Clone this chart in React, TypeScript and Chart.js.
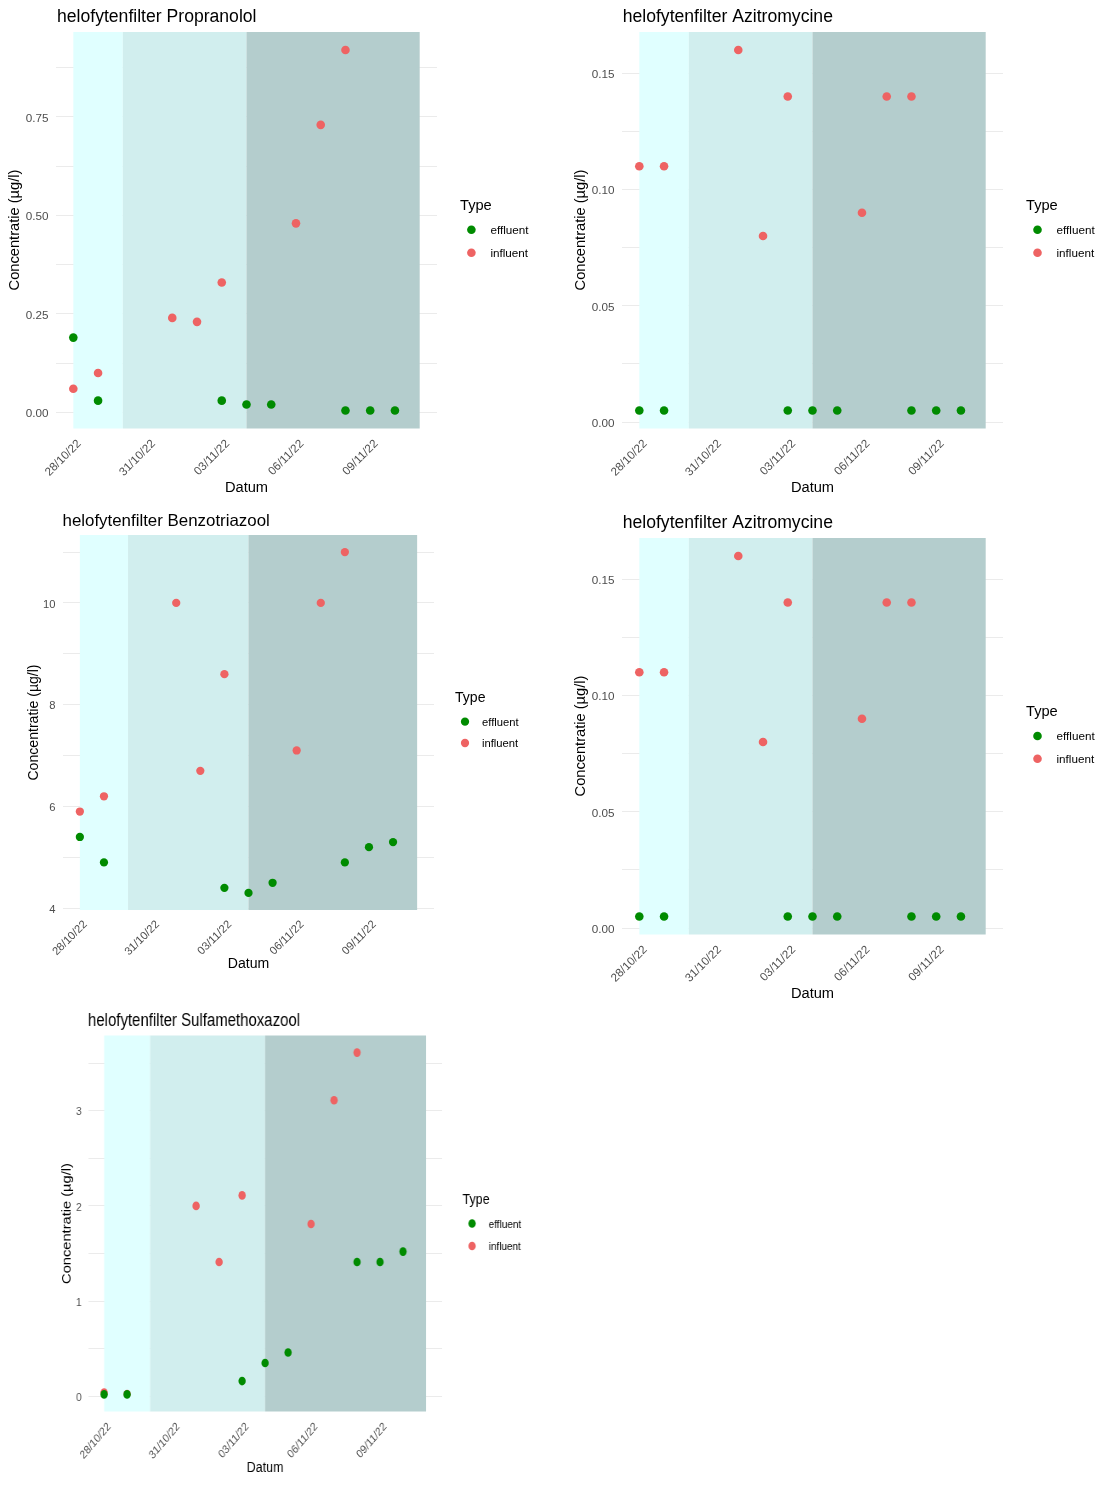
import React, { useEffect, useRef } from 'react';
import { Chart, registerables } from 'chart.js';

Chart.register(...registerables);

const FONT = '"Liberation Sans", Arial, Helvetica, sans-serif';

// ---------- data ----------
const effluentDates = ['28/10/22', '29/10/22', '03/11/22', '04/11/22', '05/11/22', '08/11/22', '09/11/22', '10/11/22'];
const influentDates = ['28/10/22', '29/10/22', '01/11/22', '02/11/22', '03/11/22', '06/11/22', '07/11/22', '08/11/22'];

const propranololEffluent = [0.19, 0.03, 0.03, 0.02, 0.02, 0.005, 0.005, 0.005];
const propranololInfluent = [0.06, 0.10, 0.24, 0.23, 0.33, 0.48, 0.73, 0.92];

const azitromycineEffluent = [0.005, 0.005, 0.005, 0.005, 0.005, 0.005, 0.005, 0.005];
const azitromycineInfluent = [0.11, 0.11, 0.16, 0.08, 0.14, 0.09, 0.14, 0.14];

const benzotriazoolEffluent = [5.4, 4.9, 4.4, 4.3, 4.5, 4.9, 5.2, 5.3];
const benzotriazoolInfluent = [5.9, 6.2, 10.0, 6.7, 8.6, 7.1, 10.0, 11.0];

const sulfamethoxazoolEffluent = [0.02, 0.02, 0.16, 0.35, 0.46, 1.41, 1.41, 1.52];
const sulfamethoxazoolInfluent = [0.04, 0.025, 2.0, 1.41, 2.11, 1.81, 3.11, 3.61];

const phaseStart = ['28/10/22', '30/10/22', '04/11/22'];
const phaseEnd = ['30/10/22', '04/11/22', '11/11/22'];
const phaseColors = ['#e0ffff', '#d1eeee', '#b4cdcd'];

const xTickLabels = ['28/10/22', '31/10/22', '03/11/22', '06/11/22', '09/11/22'];

const propranololTicks = [0, 0.25, 0.5, 0.75];
const azitromycineTicks = [0, 0.05, 0.1, 0.15];
const benzotriazoolTicks = [4, 6, 8, 10];
const sulfamethoxazoolTicks = [0, 1, 2, 3];

const seriesLabels = ['effluent', 'influent'];
const seriesColors = ['#008b00', '#ee6363'];

// ---------- helpers ----------
const dayOf = (s: string) => {
  const [d, m, y] = s.split('/').map(Number);
  return Math.round(Date.UTC(2000 + y, m - 1, d) / 86400000);
};
const DAY0 = dayOf(phaseStart[0]);
const rel = (s: string) => dayOf(s) - DAY0;

type Spec = {
  key: string;
  title: string;
  effluent: number[];
  influent: number[];
  yTicks: number[];
  decimals: number;
  box: { left: number; top: number; width: number; height: number };
  squeeze: number;
  fs: number;
  blur?: number;
  plot: { l: number; r: number; t: number; b: number };
  titlePos: { x: number; y: number };
  yTitlePos: { x: number; y: number };
  xTitleY: number;
  legend: { typeX: number; typeY: number; keyX: number; labelX: number; keyY: number[] };
  xPad: number;
  xOffset: number;
};

const panels: Spec[] = [
  {
    key: 'prop',
    title: 'helofytenfilter Propranolol',
    effluent: propranololEffluent,
    influent: propranololInfluent,
    yTicks: propranololTicks,
    decimals: 2,
    box: { left: 0, top: 0, width: 556, height: 500 },
    squeeze: 1,
    fs: 1,
    plot: { l: 56, r: 437, t: 32, b: 428.5 },
    titlePos: { x: 57, y: 21.5 },
    yTitlePos: { x: 15, y: 230 },
    xTitleY: 488,
    legend: { typeX: 460, typeY: 210, keyX: 471.4, labelX: 490.4, keyY: [229.8, 252.8] },
    xPad: 8.5,
    xOffset: 6,
  },
  {
    key: 'azi1',
    title: 'helofytenfilter Azitromycine',
    effluent: azitromycineEffluent,
    influent: azitromycineInfluent,
    yTicks: azitromycineTicks,
    decimals: 2,
    box: { left: 556, top: 0, width: 556, height: 500 },
    squeeze: 1,
    fs: 1,
    plot: { l: 622, r: 1003, t: 32, b: 428.5 },
    titlePos: { x: 622.7, y: 21.5 },
    yTitlePos: { x: 581, y: 230 },
    xTitleY: 488,
    legend: { typeX: 1026, typeY: 210, keyX: 1037.5, labelX: 1056.5, keyY: [229.8, 252.8] },
    xPad: 8.5,
    xOffset: 6,
  },
  {
    key: 'benzo',
    title: 'helofytenfilter Benzotriazool',
    effluent: benzotriazoolEffluent,
    influent: benzotriazoolInfluent,
    yTicks: benzotriazoolTicks,
    decimals: 0,
    box: { left: 0, top: 500, width: 556, height: 500 },
    squeeze: 1,
    fs: 0.96,
    blur: 0.5,
    plot: { l: 63, r: 434, t: 535, b: 910 },
    titlePos: { x: 62.5, y: 526 },
    yTitlePos: { x: 34, y: 722.5 },
    xTitleY: 964,
    legend: { typeX: 455, typeY: 702, keyX: 465, labelX: 482, keyY: [721.7, 743] },
    xPad: 8,
    xOffset: 5.5,
  },
  {
    key: 'azi2',
    title: 'helofytenfilter Azitromycine',
    effluent: azitromycineEffluent,
    influent: azitromycineInfluent,
    yTicks: azitromycineTicks,
    decimals: 2,
    box: { left: 556, top: 500, width: 556, height: 500 },
    squeeze: 1,
    fs: 1,
    plot: { l: 622, r: 1003, t: 538, b: 934.5 },
    titlePos: { x: 622.7, y: 527.5 },
    yTitlePos: { x: 581, y: 736 },
    xTitleY: 993.5,
    legend: { typeX: 1026, typeY: 716, keyX: 1037.5, labelX: 1056.5, keyY: [736, 758.8] },
    xPad: 8.5,
    xOffset: 6,
  },
  {
    key: 'sulfa',
    title: 'helofytenfilter Sulfamethoxazool',
    effluent: sulfamethoxazoolEffluent,
    influent: sulfamethoxazoolInfluent,
    yTicks: sulfamethoxazoolTicks,
    decimals: 0,
    box: { left: 0, top: 1000, width: 556, height: 474 },
    squeeze: 0.85,
    fs: 1,
    plot: { l: 88, r: 442, t: 1035.5, b: 1411.5 },
    titlePos: { x: 88, y: 1026 },
    yTitlePos: { x: 67.3, y: 1223.5 },
    xTitleY: 1468,
    legend: { typeX: 462.5, typeY: 1204, keyX: 472, labelX: 488.6, keyY: [1223.5, 1246] },
    xPad: 8.5,
    xOffset: 6,
  },
];

function makeDecor(spec: Spec) {
  const toX = (px: number) => (px - spec.box.left) / spec.squeeze;
  const toY = (py: number) => py - spec.box.top;
  const fs = spec.fs;
  return {
    id: 'decor_' + spec.key,
    beforeDatasetsDraw(chart: any) {
      const { ctx, chartArea, scales } = chart;
      ctx.save();
      for (let i = 0; i < phaseStart.length; i++) {
        const x0 = scales.x.getPixelForValue(rel(phaseStart[i]));
        const x1 = scales.x.getPixelForValue(rel(phaseEnd[i]));
        ctx.fillStyle = phaseColors[i];
        ctx.fillRect(x0, chartArea.top, x1 - x0, chartArea.bottom - chartArea.top);
      }
      ctx.restore();
    },
    afterDraw(chart: any) {
      const { ctx, chartArea } = chart;
      ctx.save();
      ctx.fillStyle = '#000000';
      // title
      ctx.font = `${17.6 * fs}px ${FONT}`;
      ctx.textAlign = 'left';
      ctx.textBaseline = 'alphabetic';
      ctx.fillText(spec.title, toX(spec.titlePos.x), toY(spec.titlePos.y));
      // y axis title
      ctx.save();
      ctx.translate(toX(spec.yTitlePos.x), toY(spec.yTitlePos.y));
      ctx.rotate(-Math.PI / 2);
      ctx.font = `${14.67 * fs}px ${FONT}`;
      ctx.textAlign = 'center';
      ctx.textBaseline = 'middle';
      ctx.fillText('Concentratie (µg/l)', 0, 0);
      ctx.restore();
      // x axis title
      ctx.font = `${14.67 * fs}px ${FONT}`;
      ctx.textAlign = 'center';
      ctx.textBaseline = 'middle';
      ctx.fillText('Datum', (chartArea.left + chartArea.right) / 2, toY(spec.xTitleY));
      // legend
      const lg = spec.legend;
      ctx.textAlign = 'left';
      ctx.textBaseline = 'alphabetic';
      ctx.font = `${14.67 * fs}px ${FONT}`;
      ctx.fillText('Type', toX(lg.typeX), toY(lg.typeY));
      ctx.font = `${11.7 * fs}px ${FONT}`;
      ctx.textBaseline = 'middle';
      for (let i = 0; i < seriesLabels.length; i++) {
        const ky = toY(lg.keyY[i]);
        ctx.fillStyle = seriesColors[i];
        ctx.beginPath();
        ctx.arc(toX(lg.keyX), ky, 4.3 * fs, 0, Math.PI * 2);
        ctx.fill();
        ctx.fillStyle = '#000000';
        ctx.fillText(seriesLabels[i], toX(lg.labelX), ky + 1);
      }
      ctx.restore();
    },
  };
}

function buildConfig(spec: Spec): any {
  const W = Math.round(spec.box.width / spec.squeeze);
  const H = spec.box.height;
  const toX = (px: number) => (px - spec.box.left) / spec.squeeze;
  const toY = (py: number) => py - spec.box.top;
  const plotL = toX(spec.plot.l);
  const plotR = toX(spec.plot.r);
  const plotT = toY(spec.plot.t);
  const plotB = toY(spec.plot.b);
  const fs = spec.fs;

  const all = [...spec.effluent, ...spec.influent];
  const lo = Math.min(...all);
  const hi = Math.max(...all);
  const yMin = lo - (hi - lo) * 0.05;
  const yMax = hi + (hi - lo) * 0.05;

  const xLo = rel(phaseStart[0]);
  const xHi = rel(phaseEnd[phaseEnd.length - 1]);
  const xMin = xLo - (xHi - xLo) * 0.05;
  const xMax = xHi + (xHi - xLo) * 0.05;

  const step = spec.yTicks[1] - spec.yTicks[0];
  const gridVals: number[] = [...spec.yTicks];
  [spec.yTicks[0] - step / 2, ...spec.yTicks.map((t) => t + step / 2)].forEach((v) => gridVals.push(v));
  const gridInRange = gridVals.filter((v) => v >= yMin && v <= yMax).sort((a, b) => a - b);
  const isMajor = (v: number) => spec.yTicks.some((t) => Math.abs(t - v) < 1e-9);

  const mk = (dates: string[], vals: number[]) => dates.map((d, i) => ({ x: rel(d), y: vals[i] }));

  return {
    type: 'scatter',
    data: {
      datasets: [
        {
          label: seriesLabels[0],
          data: mk(effluentDates, spec.effluent),
          backgroundColor: seriesColors[0],
          borderColor: seriesColors[0],
          borderWidth: 0,
          pointRadius: 4.3 * fs,
          pointHoverRadius: 4.3 * fs,
        },
        {
          label: seriesLabels[1],
          data: mk(influentDates, spec.influent),
          backgroundColor: seriesColors[1],
          borderColor: seriesColors[1],
          borderWidth: 0,
          pointRadius: 4.3 * fs,
          pointHoverRadius: 4.3 * fs,
        },
      ],
    },
    options: {
      responsive: false,
      animation: false,
      events: [],
      layout: { padding: { left: 0, top: plotT, right: W - plotR, bottom: 0 } },
      plugins: {
        legend: { display: false },
        tooltip: { enabled: false },
        title: { display: false },
      },
      scales: {
        x: {
          type: 'linear',
          position: 'bottom',
          min: xMin,
          max: xMax,
          grid: { display: false, drawTicks: false },
          border: { display: false },
          ticks: {
            autoSkip: false,
            maxRotation: 45,
            minRotation: 45,
            padding: spec.xPad,
            labelOffset: spec.xOffset,
            color: '#4d4d4d',
            font: { family: FONT, size: 11.7 * fs },
            callback: (value: number) => {
              const lab = xTickLabels.find((l) => rel(l) === value);
              return lab ?? '';
            },
          },
          afterBuildTicks: (scale: any) => {
            scale.ticks = xTickLabels.map((l) => ({ value: rel(l) }));
          },
          afterFit: (scale: any) => {
            scale.height = H - plotB;
          },
        },
        y: {
          type: 'linear',
          position: 'left',
          min: yMin,
          max: yMax,
          grid: { display: true, drawTicks: false, color: '#ebebeb', lineWidth: 1 },
          border: { display: false },
          ticks: {
            autoSkip: false,
            padding: 7.5,
            labelOffset: 1.5,
            color: '#4d4d4d',
            font: { family: FONT, size: 11.7 * fs },
            callback: (value: number) => (isMajor(value) ? value.toFixed(spec.decimals) : ''),
          },
          afterBuildTicks: (scale: any) => {
            scale.ticks = gridInRange.map((v) => ({ value: v }));
          },
          afterFit: (scale: any) => {
            scale.width = plotL;
          },
        },
      },
    },
    plugins: [makeDecor(spec)],
  };
}

function Panel({ spec }: { spec: Spec }) {
  const ref = useRef<HTMLCanvasElement>(null);
  useEffect(() => {
    const canvas = ref.current;
    if (!canvas) return;
    const chart = new Chart(canvas, buildConfig(spec));
    return () => chart.destroy();
  }, [spec]);
  const internalW = Math.round(spec.box.width / spec.squeeze);
  return (
    <canvas
      ref={ref}
      width={internalW}
      height={spec.box.height}
      style={{
        position: 'absolute',
        left: spec.box.left,
        top: spec.box.top,
        width: spec.box.width + 'px',
        height: spec.box.height + 'px',
        filter: spec.blur ? `blur(${spec.blur}px)` : undefined,
      }}
    />
  );
}

export default function App() {
  return (
    <div
      style={{
        position: 'absolute',
        left: 0,
        top: 0,
        width: 1112,
        height: 1494,
        background: '#ffffff',
        overflow: 'hidden',
      }}
    >
      {panels.map((p) => (
        <Panel key={p.key} spec={p} />
      ))}
    </div>
  );
}
